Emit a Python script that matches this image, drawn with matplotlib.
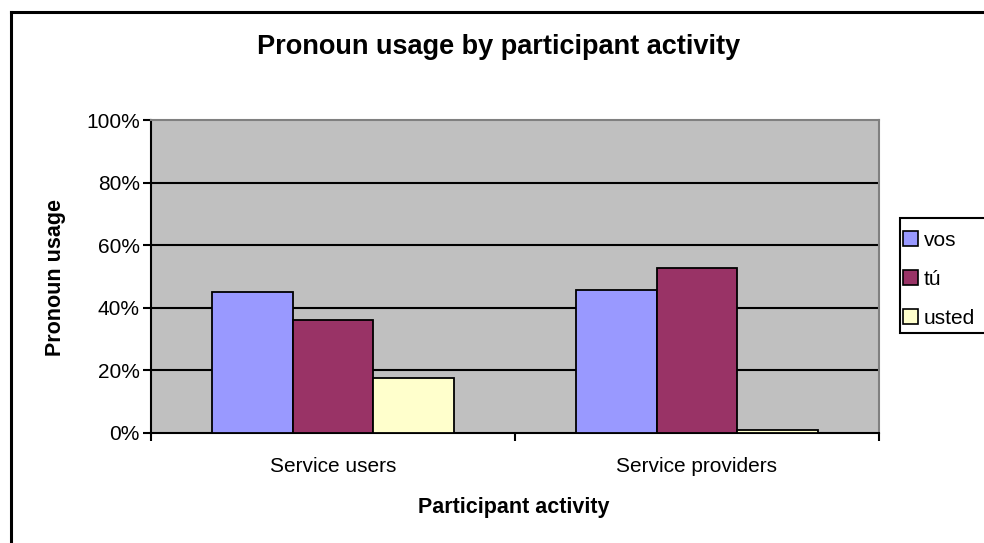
import numpy as np
import matplotlib.pyplot as plt
from matplotlib.patches import Patch, Rectangle
from matplotlib.lines import Line2D

plt.rcParams['font.family'] = ['Liberation Sans', 'DejaVu Sans']

categories = ['Service users', 'Service providers']
series = ['vos', 'tú', 'usted']
vos = [45.0, 45.8]
tu = [36.0, 52.6]
usted = [17.6, 0.8]
colors = ['#9999FF', '#993366', '#FFFFCC']
yticks = [0, 20, 40, 60, 80, 100]

W, H = 984, 543
fig = plt.figure(figsize=(W / 100, H / 100), dpi=100)

# chart area border (only left and top are inside the image)
fig.add_artist(Line2D([10.5 / W, 10.5 / W], [0, 1 - 11.5 / H], color='black', lw=2.2,
                      transform=fig.transFigure))
fig.add_artist(Line2D([10.5 / W, 1], [1 - 11.5 / H, 1 - 11.5 / H], color='black', lw=2.2,
                      transform=fig.transFigure))

ax = fig.add_axes([151 / W, 1 - 433 / H, (879 - 151) / W, (433 - 120) / H])
ax.set_facecolor('#C0C0C0')

x = np.arange(len(categories))
bw = 1 / 4.5
for i, (vals, c) in enumerate(zip([vos, tu, usted], colors)):
    ax.bar(x + (i - 1) * bw, vals, width=bw, color=c, edgecolor='black', lw=1.3, zorder=3)

ax.set_xlim(-0.5, 1.5)
ax.set_ylim(0, 100)
ax.set_yticks(yticks)
ax.set_yticklabels([f'{v}%' for v in yticks], fontsize=15)
for v in yticks[1:-1]:
    ax.axhline(v, color='black', lw=1.5, zorder=1)

ax.set_xticks([-0.5, 0.5, 1.5])
ax.set_xticklabels([])
ax.set_xticks(x, minor=True)
ax.set_xticklabels(categories, minor=True, fontsize=15)
ax.tick_params(axis='x', which='minor', length=0, pad=17)
ax.tick_params(axis='x', which='major', length=6, width=1.5, direction='out')
ax.tick_params(axis='y', length=6, width=1.5, direction='out', pad=2)

ax.spines['left'].set_linewidth(1.5)
ax.spines['bottom'].set_linewidth(1.5)
ax.spines['top'].set_color('#808080')
ax.spines['right'].set_color('#808080')
ax.spines['top'].set_linewidth(1.5)
ax.spines['right'].set_linewidth(1.5)

fig.text(55 / W, 1 - 277 / H, 'Pronoun usage', rotation=90, ha='center', va='center',
         fontsize=15.5, fontweight='bold')
fig.text(514 / W, 1 - 507 / H, 'Participant activity', ha='center', va='center',
         fontsize=15.5, fontweight='bold')
fig.text(499 / W, 1 - 47 / H, 'Pronoun usage by participant activity', ha='center', va='center',
         fontsize=19.5, fontweight='bold')

# legend box runs past the right edge of the image
fig.add_artist(Rectangle((900 / W, 1 - 333 / H), 100 / W, 115 / H, transform=fig.transFigure,
                         facecolor='white', edgecolor='black', lw=1.5))
handles = [Patch(facecolor=c, edgecolor='black', lw=1.2) for c in colors]
leg = fig.legend(handles, series, loc='upper left', bbox_to_anchor=(903 / W, 1 - 231 / H),
                 fontsize=15, frameon=False, handlelength=0.7, handleheight=0.7,
                 handletextpad=0.3, labelspacing=0.95, borderpad=0, borderaxespad=0)

fig.savefig('out.png', dpi=100)
